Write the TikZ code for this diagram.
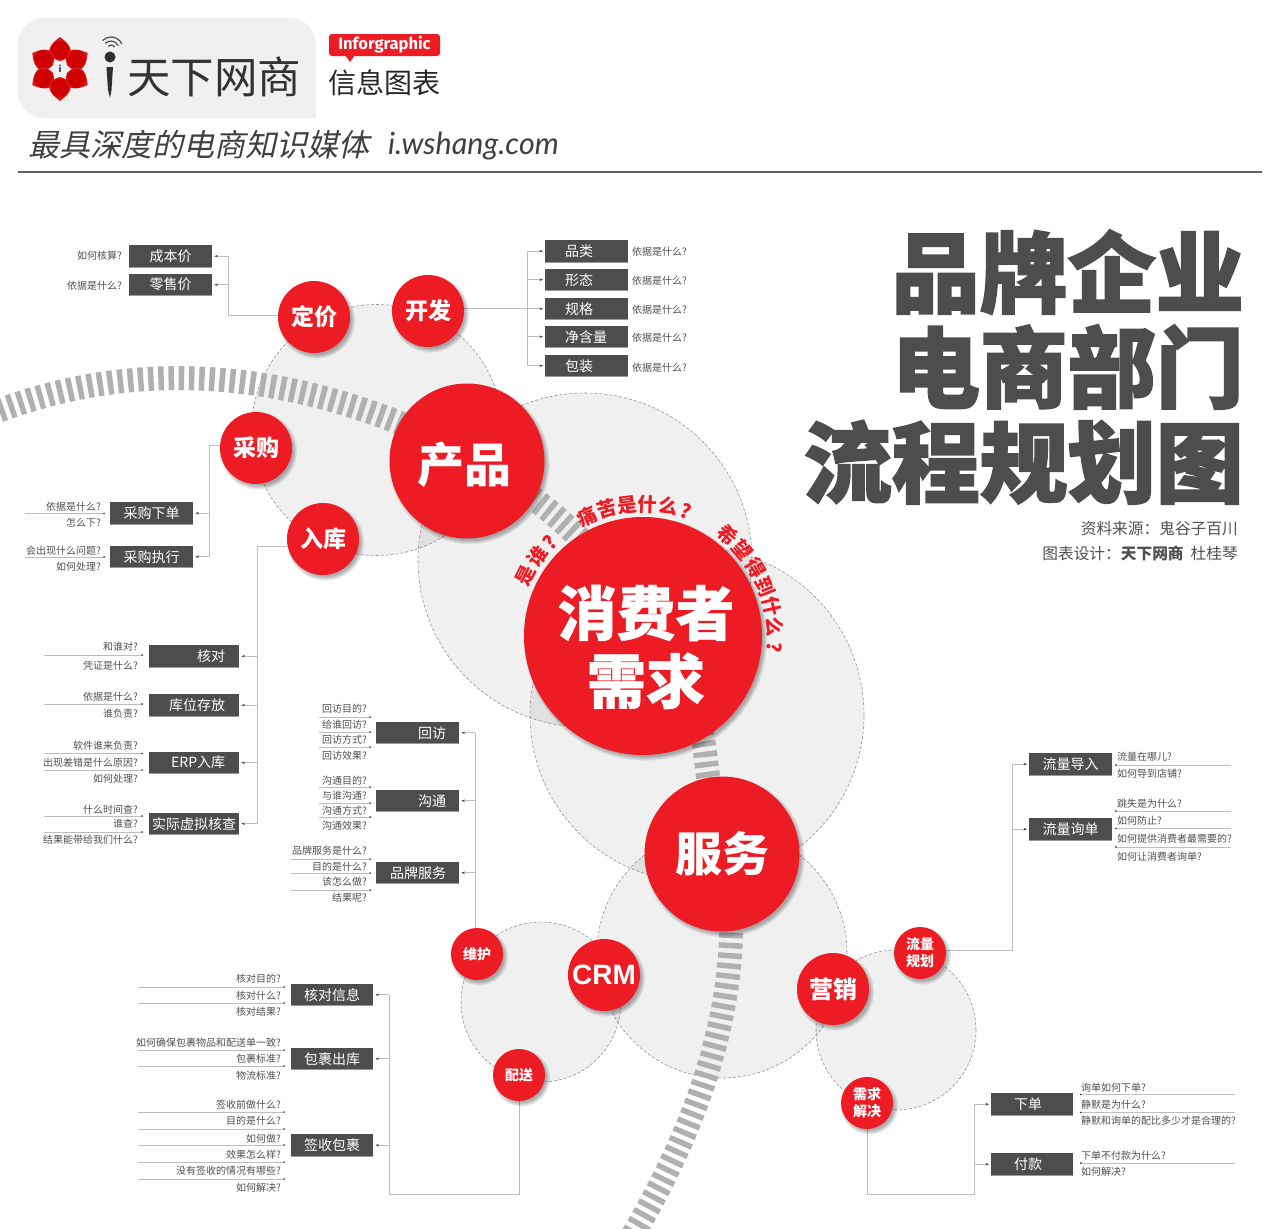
\documentclass[tikz,border=0pt]{standalone}
\usepackage{fontspec}
\usetikzlibrary{arrows.meta,calc}
\setmainfont{Noto Sans CJK SC}
\newfontfamily\blackf[FakeBold=0.8]{Noto Sans CJK SC Black}
\newfontfamily\titlef[FakeBold=2]{Noto Sans CJK SC Black}
\newfontfamily\slantf[FakeSlant=0.22]{Noto Sans CJK SC}
\newfontfamily\latof{Lato}
\newfontfamily\firaf{Fira Sans}
\newfontfamily\liberf{Liberation Sans}
\newcommand\fs[1]{\fontsize{#1}{1.2\dimexpr#1pt\relax}\selectfont}
\newcommand\fwc{\char"FF1A\relax}
\definecolor{wred}{HTML}{ED1C24}
\definecolor{wdark}{HTML}{4D4D4D}
\definecolor{wline}{HTML}{BDBDBD}
\definecolor{wband}{HTML}{B0B0B0}
\definecolor{wtxt}{HTML}{505050}
\pgfdeclarelayer{back}
\pgfsetlayers{back,main}
\newcounter{lb}
\tikzset{
  graycirc/.style={draw=black!42,dash pattern=on 3pt off 2pt,line width=.6pt,fill=black,fill opacity=.06,draw opacity=1},
  stripes/.style={draw=wband,line width=24pt,dash pattern=on 5.5pt off 4.7pt},
  bubble/.style={circle,fill=wred,text=white,inner sep=0pt,align=center,font=\bfseries},
  dbox/.style={fill=wdark,text=white,inner ysep=0pt,font=\fs{14},
    path picture={\draw[black!40,line width=1.2pt] (path picture bounding box.south west) -- (path picture bounding box.south east);}},
  labr/.style={anchor=east,inner sep=0pt,yshift=-.7pt,text=wtxt,font=\fs{10}},
  labl/.style={anchor=west,inner sep=0pt,yshift=-.7pt,text=wtxt,font=\fs{10}},
  conn/.style={draw=wline,line width=.8pt},
  tick/.style={draw=wline,line width=.7pt,-{Stealth[length=3.5pt,width=2.5pt,black!75]}},
  rulel/.style={draw=wline,line width=.8pt,-{Circle[length=1.6pt,black!70]}},
  ruler/.style={draw=wline,line width=.8pt,{Circle[length=1.6pt,black!70]}-},
  curvech/.style={inner sep=0pt,text=wred,font=\fs{19.5}\bfseries}
}
% bubble: name, x, y, radius, font size, text
\newcommand\bub[6]{%
  \foreach \k in {0,1,2,3,4}{\fill[black,opacity=.07] (#2+2.5,#3+3) circle[radius=#4pt+2.6pt-\k pt];}
  \node[bubble,minimum size=2*#4pt,font=\fs{#5}\bfseries] (#1) at (#2,#3) {#6};}
% box: name, x, y, w, h, side pad, align, text  (x,y: top-left)
\newcommand\dbx[8]{%
  \node[dbox,anchor=north west,minimum height=#5pt,inner xsep=#6pt,text width=#4pt-2*#6pt,align=#7] (#1) at (#2,#3) {#8};}
\newcommand\lbr[3]{\stepcounter{lb}\node[labr] (lab\thelb) at (#1,#2) {#3};}
\newcommand\lbl[3]{\stepcounter{lb}\node[labl] (lab\thelb) at (#1,#2) {#3};}
\newcommand\rul[3]{\draw[rulel] (#1,#3) -- (#2,#3);}
\newcommand\rur[3]{\draw[ruler] (#1,#3) -- (#2,#3);}
\newcommand\tke[2]{\draw[tick] (#1 |- #2.east) -- ([xshift=2pt]#2.east);}
\newcommand\tkw[2]{\draw[tick] (#1 |- #2.west) -- ([xshift=-2pt]#2.west);}
\begin{document}
\begin{tikzpicture}[x=1pt,y=-1pt]
\useasboundingbox (0,0) rectangle (1280,1229);

% ---------- header ----------
\fill[black!6] (316,118) -- (44,118) arc[start angle=270,end angle=180,radius=26pt] -- (18,44)
  arc[start angle=180,end angle=90,radius=26pt] -- (290,18) arc[start angle=90,end angle=0,radius=26pt] -- cycle;
\foreach \a in {30,90,150,210,270,330}{
  \begin{scope}[shift={(60,69)},rotate=\a]
    \fill[wred!92!black] (8,0) .. controls (12,-15) and (22,-14) .. (32,0) .. controls (22,14) and (12,15) .. (8,0) -- cycle;
    \fill[red!82!black] (19,0) circle[radius=9.5pt];
  \end{scope}}
\node[circle,fill=black!6,minimum size=13pt,inner sep=0pt,font=\fs{9}\bfseries,text=black!80] (logoi) at (60,69) {i};
\fill[black!82] (110,57) circle[radius=5.5pt];
\fill[black!82] (106.5,67) -- (113,67) -- (111.5,90) -- (110,98) -- (108,90) -- cycle;
\foreach \rad in {4,8,12}{\draw[black!70,line width=1.2pt] (111,49) ++(25:\rad pt) arc[start angle=25,end angle=135,radius=\rad pt];}
\node[inner sep=0pt,anchor=west,text=black!80,font=\fs{43.5}] (brand) at (127,77) {天下网商};
\fill[wred,rounded corners=3pt] (329,34) rectangle (440,56);
\fill[wred] (345,55) -- (355,55) -- (350,62) -- cycle;
\node[inner sep=0pt,text=white,font=\firaf\fs{16.5}\bfseries] (infog) at (384.5,45) {Inforgraphic};
\node[inner sep=0pt,anchor=west,text=black!85,font=\fs{28}] (xxtb) at (328,83) {信息图表};
\node[inner sep=0pt,anchor=west,text=black!75,font=\slantf\fs{31}] (slogan) at (28,145) {最具深度的电商知识媒体};
\node[inner sep=0pt,anchor=west,text=black!75,font=\latof\itshape\fs{30.5}] (site) at (388,146) {i.wshang.com};
\draw[black!62,line width=1.4pt] (18,172) -- (1262,172);

% ---------- title ----------
\node[inner sep=0pt,anchor=east,align=right,text=wdark,font={\titlef\fontsize{88}{95}\selectfont}] (title) at (1244,367) {品牌企业\\电商部门\\流程规划图};
\node[inner sep=0pt,anchor=east,align=right,text=wtxt,font={\fontsize{15.7}{24.5}\selectfont}] (source) at (1238,541) {资料来源\fwc 鬼谷子百川\\图表设计\fwc{\bfseries 天下网商}\ \ 杜桂琴};

% ---------- bubbles ----------
\bub{dingjia}{314}{317}{36}{23}{定价}
\bub{kaifa}{428}{311}{36}{23}{开发}
\bub{chanpin}{467}{461}{77.5}{1}{}
\node[inner sep=0pt,text=white,font=\fs{47}\bfseries] (chanpintext) at ([xshift=-3pt,yshift=-4pt]chanpin.center) {产品};
\bub{caigou}{256}{448}{36}{23}{采购}
\bub{ruku}{323}{539}{36}{23}{入库}
\bub{xfz}{643}{636}{119}{1}{}
\node[inner sep=0pt,align=center,text=white,font={\blackf\fontsize{59}{68}\selectfont}] (xfztext) at ([xshift=3pt,yshift=-11pt]xfz.center) {消费者\\需求};
\bub{fuwu}{722}{854}{77.5}{47}{服务}
\bub{crm}{604}{975}{36}{28}{{\liberf CRM}}
\bub{weihu}{477}{954}{26}{14}{维护}
\bub{peisong}{519}{1075}{26}{14}{配送}
\bub{yingxiao}{833}{989}{36}{24}{营销}
\bub{llgh}{920}{953}{26}{14}{流量\\规划}
\bub{xqjj}{867}{1103}{26}{14}{需求\\解决}

% curved text around the consumer circle
\foreach \c/\a in {痛/115,苦/106,是/97,什/88,么/79,?/71,
                   希/50,望/41,得/31,到/22,什/13,么/4,?/-5}{
  \stepcounter{lb}\node[curvech,rotate=\a-90] (cv\thelb) at ({643+132*cos(\a)},{636-132*sin(\a)}) {\c};}
\foreach \c/\a in {是/153,谁/143,?/135}{
  \stepcounter{lb}\node[curvech,rotate=\a-90] (cv\thelb) at ({643+132*cos(\a)},{636-132*sin(\a)}) {\c};}

% ---------- boxes ----------
\dbx{chengben}{129}{245}{83}{22}{10}{center}{成本价}
\dbx{lingshou}{129}{274}{83}{21}{10}{center}{零售价}
\lbr{122}{255}{如何核算?}
\lbr{122}{285}{依据是什么?}

\dbx{pinlei}{545}{240}{83}{22}{20}{left}{品类}
\dbx{xingtai}{545}{269}{83}{21}{20}{left}{形态}
\dbx{guige}{545}{298}{83}{21}{20}{left}{规格}
\dbx{jinghan}{545}{326}{83}{21}{20}{left}{净含量}
\dbx{baozhuang}{545}{355}{83}{21}{20}{left}{包装}
\lbl{632}{251}{依据是什么?}
\lbl{632}{280}{依据是什么?}
\lbl{632}{309}{依据是什么?}
\lbl{632}{337}{依据是什么?}
\lbl{632}{367}{依据是什么?}

\dbx{xiadanL}{110}{502}{83}{22}{10}{center}{采购下单}
\dbx{zhixing}{110}{546}{83}{21}{10}{center}{采购执行}
\lbr{101}{506}{依据是什么?}
\lbr{101}{522}{怎么下?}
\lbr{101}{550}{会出现什么问题?}
\lbr{101}{566}{如何处理?}
\rul{25}{105}{513.5}
\rul{25}{105}{557}

\dbx{hedui}{149}{645}{90}{22}{14}{right}{核对}
\dbx{kuwei}{149}{694}{90}{22}{14}{right}{库位存放}
\dbx{erp}{149}{752}{90}{21}{14}{right}{ERP入库}
\dbx{shiji}{149}{813}{90}{21}{3}{center}{实际虚拟核查}
\lbr{138}{646}{和谁对?}
\lbr{138}{665}{凭证是什么?}
\rul{44}{143}{655}
\lbr{138}{696}{依据是什么?}
\lbr{138}{713}{谁负责?}
\rul{44}{143}{704}
\lbr{138}{745}{软件谁来负责?}
\lbr{138}{762}{出现差错是什么原因?}
\lbr{138}{778}{如何处理?}
\rul{44}{143}{753.5}
\rul{44}{143}{770}
\lbr{138}{809}{什么时间查?}
\lbr{138}{823}{谁查?}
\lbr{138}{839}{结果能带给我们什么?}
\rul{44}{143}{816}
\rul{44}{143}{832}

\dbx{huifang}{376}{722}{83}{21}{13}{right}{回访}
\dbx{goutong}{376}{790}{83}{21}{13}{right}{沟通}
\dbx{ppfw}{376}{862}{83}{21}{13}{right}{品牌服务}
\lbr{367}{708}{回访目的?}
\lbr{367}{724}{给谁回访?}
\lbr{367}{739}{回访方式?}
\lbr{367}{755}{回访效果?}
\rul{319}{371}{717}
\rul{319}{371}{732}
\rul{319}{371}{747}
\lbr{367}{780}{沟通目的?}
\lbr{367}{795}{与谁沟通?}
\lbr{367}{810}{沟通方式?}
\lbr{367}{825}{沟通效果?}
\rul{319}{371}{787}
\rul{319}{371}{803}
\rul{319}{371}{817}
\lbr{367}{850}{品牌服务是什么?}
\lbr{367}{866}{目的是什么?}
\lbr{367}{881}{该怎么做?}
\lbr{367}{897}{结果呢?}
\rul{291}{371}{859}
\rul{291}{371}{873}
\rul{291}{371}{890}

\dbx{hdxx}{291}{984}{82}{21}{10}{center}{核对信息}
\dbx{bgck}{291}{1048}{82}{21}{10}{center}{包裹出库}
\dbx{qsbg}{291}{1134}{82}{22}{10}{center}{签收包裹}
\lbr{281}{978}{核对目的?}
\lbr{281}{995}{核对什么?}
\lbr{281}{1011}{核对结果?}
\rul{138}{285}{987}
\rul{138}{285}{1003}
\lbr{281}{1042}{如何确保包裹物品和配送单一致?}
\lbr{281}{1058}{包裹标准?}
\lbr{281}{1075}{物流标准?}
\rul{138}{285}{1050}
\rul{138}{285}{1066}
\lbr{281}{1104}{签收前做什么?}
\lbr{281}{1120}{目的是什么?}
\lbr{281}{1138}{如何做?}
\lbr{281}{1154}{效果怎么样?}
\lbr{281}{1170}{没有签收的情况有哪些?}
\lbr{281}{1187}{如何解决?}
\rul{138}{285}{1112}
\rul{138}{285}{1129}
\rul{138}{285}{1145}
\rul{138}{285}{1162}
\rul{138}{285}{1179}

\dbx{daoru}{1029}{753}{83}{22}{10}{center}{流量导入}
\dbx{xundan}{1029}{818}{83}{22}{10}{center}{流量询单}
\lbl{1117}{756}{流量在哪儿?}
\lbl{1117}{773}{如何导到店铺?}
\rur{1115}{1231}{765}
\lbl{1117}{803}{跳失是为什么?}
\lbl{1117}{820}{如何防止?}
\lbl{1117}{838}{如何提供消费者最需要的?}
\lbl{1117}{856}{如何让消费者询单?}
\rur{1115}{1231}{811}
\rur{1115}{1231}{828.5}
\rur{1115}{1231}{847}

\dbx{xiadan}{991}{1093}{82}{22}{23}{left}{下单}
\dbx{fukuan}{991}{1153}{82}{22}{23}{left}{付款}
\lbl{1081}{1087}{询单如何下单?}
\lbl{1081}{1104}{静默是为什么?}
\lbl{1081}{1120}{静默和询单的配比多少才是合理的?}
\rur{1080}{1235}{1094.5}
\rur{1080}{1235}{1112.5}
\lbl{1081}{1155}{下单不付款为什么?}
\lbl{1081}{1171}{如何解决?}
\rur{1080}{1235}{1163}

% ---------- everything behind the bubbles ----------
\begin{pgfonlayer}{back}
  \fill[white] (0,0) rectangle (1280,1229);
  \draw[graycirc] (377,430) circle[radius=125.5pt];
  \draw[graycirc] (585,560) circle[radius=167pt];
  \draw[graycirc] (697,715) circle[radius=167pt];
  \draw[graycirc] (722,953) circle[radius=125pt];
  \draw[graycirc] (541,1002) circle[radius=80pt];
  \draw[graycirc] (896,1030) circle[radius=80pt];
  \draw[stripes] (-20,418) .. controls (110,364) and (250,364) .. (400,423)
     .. controls (460,447) and (520,485) .. (560,520)
     .. controls (650,600) and (700,690) .. (706,760)
     .. controls (712,820) and (731,850) .. (731,905)
     .. controls (735,1020) and (695,1130) .. (630,1240);

  % connectors
  \coordinate (jA) at (228,315);
  \draw[conn] (dingjia.west |- jA) -- (jA) -- (jA |- chengben.east);
  \tke{jA}{chengben} \tke{jA}{lingshou}
  \coordinate (jB) at (527,308);
  \draw[conn] (kaifa.east |- jB) -- (jB);
  \draw[conn] (jB |- pinlei.west) -- (jB |- baozhuang.west);
  \tkw{jB}{pinlei} \tkw{jB}{xingtai} \tkw{jB}{guige} \tkw{jB}{jinghan} \tkw{jB}{baozhuang}
  \coordinate (jC) at (209,445);
  \draw[conn] (caigou.west |- jC) -- (jC) -- (jC |- zhixing.east);
  \tke{jC}{xiadanL} \tke{jC}{zhixing}
  \coordinate (jD) at (257,546);
  \draw[conn] (ruku.west |- jD) -- (jD) -- (jD |- shiji.east);
  \tke{jD}{hedui} \tke{jD}{kuwei} \tke{jD}{erp} \tke{jD}{shiji}
  \coordinate (jE) at (475,732.5);
  \draw[conn] (jE |- weihu.north) -- (jE);
  \tke{jE}{huifang} \tke{jE}{goutong} \tke{jE}{ppfw}
  \coordinate (jF) at (389,1194);
  \draw[conn] (peisong.south) -- (peisong.south |- jF) -- (jF) -- (jF |- hdxx.east);
  \tke{jF}{hdxx} \tke{jF}{bgck} \tke{jF}{qsbg}
  \coordinate (jG) at (1012,950);
  \draw[conn] (llgh.east |- jG) -- (jG) -- (jG |- daoru.west);
  \tkw{jG}{daoru} \tkw{jG}{xundan}
  \coordinate (jH) at (974,1194);
  \draw[conn] (xqjj.south) -- (xqjj.south |- jH) -- (jH) -- (jH |- xiadan.west);
  \tkw{jH}{xiadan} \tkw{jH}{fukuan}
\end{pgfonlayer}
\end{tikzpicture}
\end{document}
